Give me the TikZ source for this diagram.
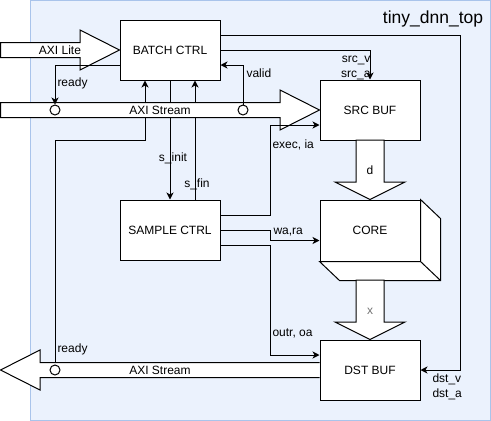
\documentclass[tikz,border=0pt]{standalone}
\usepackage{fontspec}
\setmainfont{Liberation Sans}
\usetikzlibrary{positioning,arrows.meta,calc}
\definecolor{topfill}{RGB}{235,242,253}
\definecolor{topline}{RGB}{169,196,235}

\begin{document}
\begin{tikzpicture}[x=1pt,y=-1pt,line width=1pt,font=\fontsize{12}{15}\selectfont,
 blk/.style={draw,fill=white,minimum width=100pt,minimum height=60pt,inner sep=0pt},
 conn/.style={-{Stealth[length=7pt,width=7pt,inset=2pt]}},
 port/.style={draw,circle,fill=white,minimum size=10pt,inner sep=0pt},
 fatarrow/.style={draw,fill=white},
 lbl/.style={inner sep=1pt}]
\useasboundingbox (0,0) rectangle (491,421);
\draw[topline,fill=topfill] (30.5,0.5) rectangle (490,420);
\node[blk] (batch) at (170,50) {BATCH CTRL};
\node[blk] (srcbuf) at (370,110) {SRC BUF};
\node[blk] (sample) at (170,230) {SAMPLE CTRL};
\node[blk,minimum height=61pt] (core) at (370,230.5) {CORE};
\node[blk] (dstbuf) at (370,370) {DST BUF};
\coordinate (rdyBpos) at (55,370);
\coordinate (bus) at (270,0);
\coordinate (rail) at (460,0);
\coordinate (rdyturn) at (145,140);
\coordinate (execin) at ([yshift=-15pt]srcbuf.west);
\coordinate (wain) at ([yshift=-10pt]core.west);
\coordinate (outin) at ([yshift=15pt]dstbuf.west);
% lines under the stream
\draw[conn] ([yshift=5pt]rdyBpos) |- (rdyturn) -- (rdyturn |- batch.south);
\draw[conn] (batch.south) -- (sample.north);
\draw[conn] ([xshift=25pt]sample.north) -- ([xshift=25pt]batch.south);
% axi ports
\draw[fatarrow] (0.5,42.5) -- (80,42.5) -- (80,30) -- (batch.west) -- (80,70) -- (80,57.5) -- (0.5,57.5) -- cycle;
\draw[fatarrow] (0.5,102.5) -- (280,102.5) -- (280,90) -- (srcbuf.west) -- (280,130) -- (280,117.5) -- (0.5,117.5) -- cycle;
\draw[fatarrow] (dstbuf.west |- 0,362.5) -- (40,362.5) -- (40,350) -- (0.5,370) -- (40,390) -- (40,377.5) -- (dstbuf.west |- 0,377.5);
\node[port] (rdyA) at (55,110) {};
\node[port] (vldA) at (243,110) {};
\node[port] (rdyB) at (rdyBpos) {};
\node[anchor=east,font=\fontsize{17.5}{20}\selectfont] (title) at (487,19) {tiny\_dnn\_top};
\node (axilite) at (60,50) {AXI Lite};
\node (axisin) at (160,110) {AXI Stream};
\node (axisout) at (160,370) {AXI Stream};
% core box
\draw[fill=white] (core.north east) -- ++(20,19) -- ($(core.south east)+(20,19)$) -- ($(core.south west)+(20,19)$) -- (core.south west) -- (core.south east) -- cycle;
\draw (core.south east) -- ++(20,19);
% data paths
\draw[fatarrow] (356,140) -- (384,140) -- (384,182) -- (405,182) -- (core.north) -- (335,182) -- (356,182) -- cycle;
\draw[fatarrow] (356,280) -- (384,280) -- (384,322) -- (405,322) -- (dstbuf.north) -- (335,322) -- (356,322) -- cycle;
\node (dlbl) at (370,170) {d};
\node[text=black!55] (xlbl) at (370,311) {x};
% control
\draw[conn] ([yshift=-15pt]batch.west) -| (rdyA.north);
\node[lbl,anchor=west] (rdyAl) at (56,83) {ready};
\draw[conn] (vldA.north) |- ([yshift=-15pt]batch.east);
\node[lbl,anchor=west] (vldl) at (245,73) {valid};
\draw[conn] (batch.east) -| (srcbuf.north);
\node[lbl,anchor=south east,align=right] (srcl) at (372,81) {src\_v\\src\_a};
\draw[conn] ([yshift=15pt]batch.east) -| (rail |- dstbuf.east) -- (dstbuf.east);
\node[lbl,anchor=north west,align=left] (dstl) at (431,372) {dst\_v\\dst\_a};
\node[lbl] (initl) at (173,158) {s\_init};
\node[lbl] (finl) at (197,184) {s\_fin};
\node[lbl,anchor=west] (rdyBl) at (56,349) {ready};
\draw[conn] ([yshift=15pt]sample.east) -| (bus |- execin) -- (execin);
\node[lbl,anchor=west] (execl) at (271,145) {exec, ia};
\draw[conn] (sample.east) -| (bus |- wain) -- (wain);
\node[lbl,anchor=west] (wal) at (272,232) {wa,ra};
\draw[conn] ([yshift=-15pt]sample.east) -| (bus |- outin) -- (outin);
\node[lbl,anchor=west] (outl) at (271,333) {outr, oa};
\end{tikzpicture}
\end{document}
